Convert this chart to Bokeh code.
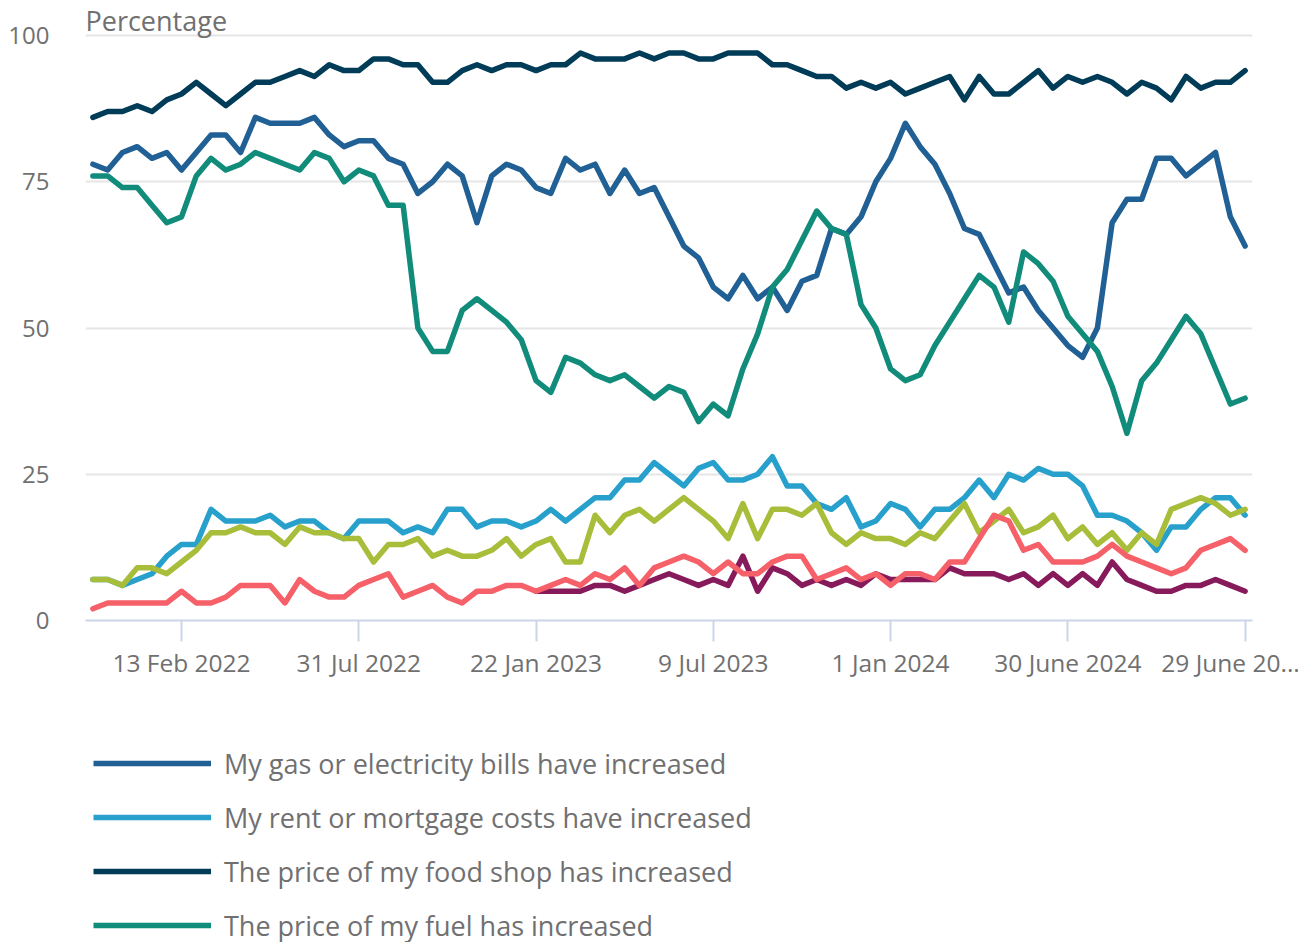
import numpy as np
from bokeh.plotting import figure
from bokeh.layouts import column
from bokeh.models import Legend, LegendItem, Label, FixedTicker, Range1d
from bokeh.embed import file_html
from bokeh.resources import INLINE

# ---- data (fortnightly / monthly survey periods, shown as an index axis) ----
period_index = list(range(79))
tick_positions = [6, 18, 30, 42, 54, 66, 78]
tick_labels = ["13 Feb 2022", "31 Jul 2022", "22 Jan 2023", "9 Jul 2023",
               "1 Jan 2024", "30 June 2024", "29 June 20..."]

gas_electricity = [78, 77, 80, 81, 79, 80, 77, 80, 83, 83, 80, 86, 85, 85, 85, 86, 83,
                   81, 82, 82, 79, 78, 73, 75, 78, 76, 68, 76, 78, 77, 74, 73, 79, 77, 78, 73, 77,
                   73, 74, 69, 64, 62, 57, 55, 59, 55, 57, 53, 58, 59, 67, 66, 69, 75, 79, 85, 81, 78,
                   73, 67, 66, 61, 56, 57, 53, 50, 47, 45, 50, 68, 72, 72, 79, 79, 76, 78, 80, 69, 64]
rent_mortgage = [7, 7, 6, 7, 8, 11, 13, 13, 19, 17, 17, 17, 18, 16, 17, 17, 15,
                 14, 17, 17, 17, 15, 16, 15, 19, 19, 16, 17, 17, 16, 17, 19, 17, 19, 21, 21, 24,
                 24, 27, 25, 23, 26, 27, 24, 24, 25, 28, 23, 23, 20, 19, 21, 16, 17, 20, 19, 16, 19,
                 19, 21, 24, 21, 25, 24, 26, 25, 25, 23, 18, 18, 17, 15, 12, 16, 16, 19, 21, 21, 18]
food_shop = [86, 87, 87, 88, 87, 89, 90, 92, 90, 88, 90, 92, 92, 93, 94, 93, 95,
             94, 94, 96, 96, 95, 95, 92, 92, 94, 95, 94, 95, 95, 94, 95, 95, 97, 96, 96, 96,
             97, 96, 97, 97, 96, 96, 97, 97, 97, 95, 95, 94, 93, 93, 91, 92, 91, 92, 90, 91, 92,
             93, 89, 93, 90, 90, 92, 94, 91, 93, 92, 93, 92, 90, 92, 91, 89, 93, 91, 92, 92, 94]
fuel = [76, 76, 74, 74, 71, 68, 69, 76, 79, 77, 78, 80, 79, 78, 77, 80, 79,
        75, 77, 76, 71, 71, 50, 46, 46, 53, 55, 53, 51, 48, 41, 39, 45, 44, 42, 41, 42,
        40, 38, 40, 39, 34, 37, 35, 43, 49, 57, 60, 65, 70, 67, 66, 54, 50, 43, 41, 42, 47,
        51, 55, 59, 57, 51, 63, 61, 58, 52, 49, 46, 40, 32, 41, 44, 48, 52, 49, 43, 37, 38]
series_lime = [7, 7, 6, 9, 9, 8, 10, 12, 15, 15, 16, 15, 15, 13, 16, 15, 15,
               14, 14, 10, 13, 13, 14, 11, 12, 11, 11, 12, 14, 11, 13, 14, 10, 10, 18, 15, 18,
               19, 17, 19, 21, 19, 17, 14, 20, 14, 19, 19, 18, 20, 15, 13, 15, 14, 14, 13, 15, 14,
               17, 20, 15, 17, 19, 15, 16, 18, 14, 16, 13, 15, 12, 15, 13, 19, 20, 21, 20, 18, 19]
series_purple = [np.nan] * 30 + [5, 5, 5, 5, 6, 6, 5,
                 6, 7, 8, 7, 6, 7, 6, 11, 5, 9, 8, 6, 7, 6, 7, 6, 8, 7, 7, 7, 7,
                 9, 8, 8, 8, 7, 8, 6, 8, 6, 8, 6, 10, 7, 6, 5, 5, 6, 6, 7, 6, 5]
series_coral = [2, 3, 3, 3, 3, 3, 5, 3, 3, 4, 6, 6, 6, 3, 7, 5, 4,
                4, 6, 7, 8, 4, 5, 6, 4, 3, 5, 5, 6, 6, 5, 6, 7, 6, 8, 7, 9,
                6, 9, 10, 11, 10, 8, 10, 8, 8, 10, 11, 11, 7, 8, 9, 7, 8, 6, 8, 8, 7,
                10, 10, 14, 18, 17, 12, 13, 10, 10, 10, 11, 13, 11, 10, 9, 8, 9, 12, 13, 14, 12]

legend_names = ["My gas or electricity bills have increased",
                "My rent or mortgage costs have increased",
                "The price of my food shop has increased",
                "The price of my fuel has increased"]
legend_colors = ["#206095", "#27a0cc", "#003c57", "#118c7b"]

FONT = "Open Sans"
GREY = "#707071"
W = 1312

# ---------- main chart (plot area reaches the top so the unit label fits inside) ----------
p = figure(width=W, height=735, output_backend="svg", toolbar_location=None,
           x_range=Range1d(-0.5, 78.5), y_range=Range1d(0, 100 * 620 / 585),
           min_border_left=84, min_border_right=60, min_border_top=0,
           min_border_bottom=115)
p.outline_line_color = None
p.background_fill_color = "white"
p.border_fill_color = "white"

p.xgrid.visible = False
p.ygrid.ticker = FixedTicker(ticks=[0, 25, 50, 75, 100])
p.ygrid.grid_line_color = "#e6e6e6"
p.ygrid.grid_line_width = 2

nbsp = "\u00a0"
xa = p.xaxis[0]
xa.ticker = FixedTicker(ticks=tick_positions)
xa.major_label_overrides = {t: (l if t != 78 else l + nbsp * 2)
                            for t, l in zip(tick_positions, tick_labels)}
xa.axis_line_color = "#ccd6eb"
xa.axis_line_width = 2
xa.major_tick_line_color = "#ccd6eb"
xa.major_tick_line_width = 2
xa.major_tick_out = 21
xa.major_tick_in = 0
xa.minor_tick_out = 0
xa.minor_tick_in = 0
xa.major_label_standoff = 4
xa.major_label_text_font = FONT
xa.major_label_text_font_size = "24.5px"
xa.major_label_text_color = GREY

ya = p.yaxis[0]
ya.ticker = FixedTicker(ticks=[0, 25, 50, 75, 100])
ya.axis_line_color = None
ya.major_tick_line_color = None
ya.minor_tick_line_color = None
ya.major_tick_out = 0
ya.major_tick_in = 0
ya.major_label_standoff = 36
ya.major_label_text_font = FONT
ya.major_label_text_font_size = "24px"
ya.major_label_text_color = GREY

p.add_layout(Label(x=-0.5, y=100 + 15 / 5.85, text="Percentage", text_font=FONT,
                   text_font_size="27px", text_color=GREY,
                   text_align="left", text_baseline="alphabetic"))

common = dict(line_width=5.5, line_join="round", line_cap="round")
p.line(period_index, gas_electricity, color="#206095", **common)
p.line(period_index, rent_mortgage, color="#27a0cc", **common)
p.line(period_index, food_shop, color="#003c57", **common)
p.line(period_index, fuel, color="#118c7b", **common)
p.line(period_index, series_lime, color="#a8bd3a", **common)
p.line(period_index, np.array(series_purple, dtype=float), color="#871a5b", **common)
p.line(period_index, series_coral, color="#f66068", **common)

# ---------- legend strip ----------
leg = figure(width=W, height=207, output_backend="svg", toolbar_location=None,
             x_range=Range1d(0, 1), y_range=Range1d(0, 1),
             x_axis_location=None, y_axis_location=None,
             min_border_left=85, min_border_right=0, min_border_top=0, min_border_bottom=0)
leg.outline_line_color = None
leg.grid.visible = False
# legend swatches: renderers whose points lie outside this strip's visible range
proxies = [leg.line([5, 6], [5, 6], color=c, line_width=5.5) for c in legend_colors]
legend = Legend(items=[LegendItem(label=n, renderers=[r]) for n, r in zip(legend_names, proxies)],
                location="top_left", orientation="vertical",
                glyph_width=118, glyph_height=40, label_height=40,
                label_standoff=13, spacing=14, padding=0, margin=8,
                border_line_color=None, background_fill_alpha=0,
                label_text_font=FONT, label_text_font_size="27px",
                label_text_color=GREY)
leg.add_layout(legend, "center")

layout = column(p, leg, spacing=0)
open("out.html", "w").write(file_html(layout, INLINE))
